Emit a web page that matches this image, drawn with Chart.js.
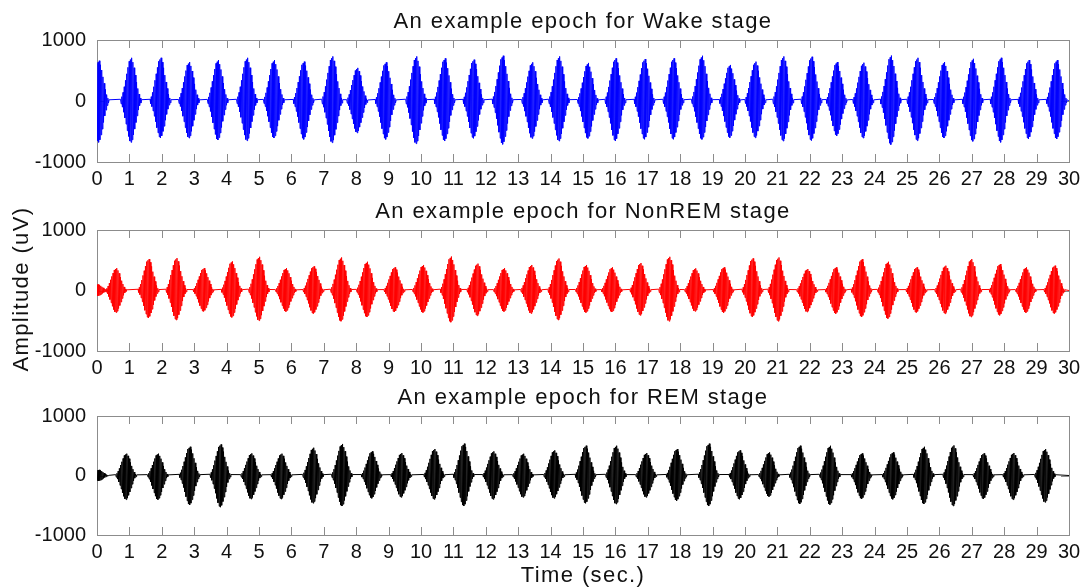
<!DOCTYPE html>
<html>
<head>
<meta charset="utf-8">
<script src="https://cdn.jsdelivr.net/npm/chart.js@4.4.1/dist/chart.umd.min.js"></script>
<style>
  body { margin: 0; background: #fff; }
  #fig { position: relative; width: 1088px; height: 587px; overflow: hidden; background: #fff;
         font-family: "Liberation Sans", Arial, sans-serif; color: #111; }
  #fig canvas { position: absolute; left: 0; }
  .lbl { position: absolute; font-size: 22px; line-height: 22px; letter-spacing: 1.4px;
         white-space: nowrap; text-align: center; }
</style>
</head>
<body>
<div id="fig">
  <canvas id="wake" width="1088" height="169" style="top:25px"></canvas>
  <canvas id="nrem" width="1088" height="168" style="top:215px"></canvas>
  <canvas id="rem" width="1088" height="166" style="top:401px"></canvas>

  <div class="lbl" style="left:97px;width:972px;top:10px">An example epoch for Wake stage</div>
  <div class="lbl" style="left:97px;width:972px;top:200px">An example epoch for NonREM stage</div>
  <div class="lbl" style="left:97px;width:972px;top:386px">An example epoch for REM stage</div>
  <div class="lbl" style="left:-79px;width:200px;top:278px;transform:rotate(-90deg)">Amplitude (uV)</div>
  <div class="lbl" style="left:483px;width:200px;top:564px">Time (sec.)</div>
</div>
<script>
// tick labels
const timeTicks = [0, 1, 2, 3, 4, 5, 6, 7, 8, 9, 10, 11, 12, 13, 14, 15, 16, 17, 18, 19, 20,
                   21, 22, 23, 24, 25, 26, 27, 28, 29, 30];
const ampTicks = [-1000, 0, 1000];
const epoch = [0, 30];

// burst centres (sec) and peak amplitudes (uV)
const wakeTimes = [0.05, 1.05, 1.96, 2.84, 3.73, 4.63, 5.46, 6.38, 7.26, 8.03, 8.91, 9.85, 10.73, 11.62,
                   12.52, 13.43, 14.26, 15.15, 16.0, 16.9, 17.79, 18.67, 19.53, 20.32, 21.18, 22.05,
                   22.83, 23.65, 24.5, 25.32, 26.14, 27.03, 27.89, 28.75, 29.62];
const wakeUpper = [660, 708, 708, 639, 671, 708, 671, 645, 731, 543, 634, 731, 699, 677, 742, 634, 731,
                   624, 699, 688, 699, 742, 591, 645, 731, 725, 639, 628, 745, 708, 639, 692, 708, 671, 671];
const wakeLower = [-677, -677, -607, -607, -639, -650, -607, -629, -683, -522, -629, -699, -656, -613, -710,
                   -613, -656, -613, -656, -629, -629, -629, -602, -602, -656, -650, -570, -607, -714, -650,
                   -607, -661, -677, -623, -623];

const nremTimes = [0.02, 0.59, 1.59, 2.45, 3.29, 4.16, 5.0, 5.83, 6.68, 7.53, 8.33, 9.18, 10.06, 10.92,
                   11.74, 12.56, 13.4, 14.24, 15.09, 15.89, 16.77, 17.66, 18.46, 19.34, 20.23, 21.03,
                   21.92, 22.8, 23.6, 24.41, 25.29, 26.18, 26.98, 27.86, 28.67, 29.55];
const nremUpper = [100, 369, 519, 535, 369, 481, 557, 369, 399, 546, 475, 383, 422, 561, 444, 369, 422, 529,
                   422, 383, 454, 557, 366, 383, 530, 546, 355, 383, 519, 475, 383, 410, 519, 437, 383, 410];
const nremLower = [-90, -364, -454, -487, -348, -444, -498, -348, -383, -508, -437, -355, -364, -524, -417,
                   -348, -380, -487, -364, -355, -410, -508, -344, -366, -437, -508, -355, -383, -437, -464,
                   -366, -383, -437, -410, -366, -383];

const remTimes = [0.05, 0.9, 1.88, 2.86, 3.81, 4.76, 5.69, 6.67, 7.56, 8.48, 9.39, 10.41, 11.32, 12.23,
                  13.15, 14.11, 15.08, 16.02, 16.95, 17.89, 18.88, 19.83, 20.74, 21.69, 22.62, 23.6, 24.56,
                  25.52, 26.43, 27.36, 28.28, 29.26];
const remUpper = [95, 367, 367, 483, 522, 372, 367, 467, 530, 406, 377, 445, 535, 406, 366, 423, 501, 501,
                  377, 445, 535, 423, 389, 501, 500, 372, 389, 483, 506, 372, 378, 444];
const remLower = [-90, -405, -405, -495, -533, -395, -395, -465, -513, -383, -366, -400, -513, -400, -366,
                  -383, -468, -479, -366, -423, -513, -400, -355, -479, -489, -394, -400, -478, -511, -394,
                  -405, -450];

// relative envelope of one burst (successive half-cycle extremes)
const spindle = [0.04, -0.07, 0.1, -0.15, 0.2, -0.27, 0.33, -0.41, 0.48, -0.56, 0.63, -0.72, 0.78, -0.86,
                 0.92, -0.97, 0.96, -1.0, 1.0, -0.94, 0.9, -0.82, 0.77, -0.68, 0.6, -0.52, 0.44, -0.36,
                 0.29, -0.22, 0.16, -0.11, 0.07, -0.05, 0.03];
const halfPeriod = 0.019;

function buildTrace(times, upper, lower) {
  let pts = [];
  times.forEach((t, i) => {
    const start = t - (spindle.length - 1) / 2 * halfPeriod;
    spindle.forEach((s, k) => {
      pts.push({ x: start + k * halfPeriod, y: s >= 0 ? s * upper[i] : -s * lower[i] });
    });
  });
  if (pts[0].x > epoch[0]) pts.unshift({ x: epoch[0], y: 0 });
  if (pts[pts.length - 1].x < epoch[1]) pts.push({ x: epoch[1], y: 0 });
  return pts;
}

const tickFont = { family: "'Liberation Sans', Arial, sans-serif", size: 20 };

const axisBox = {
  id: 'axisBox',
  beforeDatasetsDraw(chart) {
    const { ctx, chartArea: a, scales } = chart;
    ctx.save();
    ctx.strokeStyle = '#8c8c8c';
    ctx.lineWidth = 1;
    ctx.strokeRect(a.left + 0.5, a.top + 0.5, a.right - a.left, a.bottom - a.top);
    ctx.beginPath();
    timeTicks.forEach(v => {
      const px = Math.round(scales.x.getPixelForValue(v)) + 0.5;
      ctx.moveTo(px, a.top); ctx.lineTo(px, a.top + 8);
      ctx.moveTo(px, a.bottom); ctx.lineTo(px, a.bottom - 8);
    });
    ampTicks.forEach(v => {
      const py = Math.round(scales.y.getPixelForValue(v)) + 0.5;
      ctx.moveTo(a.left, py); ctx.lineTo(a.left + 8, py);
      ctx.moveTo(a.right, py); ctx.lineTo(a.right - 8, py);
    });
    ctx.stroke();
    ctx.restore();
  }
};

function makePanel(id, times, upper, lower, color) {
  return new Chart(document.getElementById(id), {
    type: 'line',
    data: {
      datasets: [{
        data: buildTrace(times, upper, lower),
        borderColor: color,
        borderWidth: 1,
        pointRadius: 0,
        tension: 0,
        fill: false
      }]
    },
    options: {
      responsive: false,
      animation: false,
      devicePixelRatio: 1,
      parsing: false,
      layout: { padding: { top: 12, right: 19, left: 0, bottom: 0 } },
      plugins: { legend: { display: false }, tooltip: { enabled: false }, title: { display: false } },
      scales: {
        x: {
          type: 'linear', min: 0, max: 30,
          grid: { display: false }, border: { display: false },
          afterBuildTicks: s => { s.ticks = timeTicks.map(v => ({ value: v })); },
          afterFit: s => { s.height = 32; },
          ticks: { autoSkip: false, maxRotation: 0, padding: -3, color: '#111', font: tickFont,
                   callback: v => String(v) }
        },
        y: {
          type: 'linear', min: -1000, max: 1000,
          grid: { display: false }, border: { display: false },
          afterBuildTicks: s => { s.ticks = ampTicks.map(v => ({ value: v })); },
          afterFit: s => { s.width = 97; },
          ticks: { padding: 3, color: '#111', font: tickFont, callback: v => String(v) }
        }
      }
    },
    plugins: [axisBox]
  });
}

makePanel('wake', wakeTimes, wakeUpper, wakeLower, '#0000ff');
makePanel('nrem', nremTimes, nremUpper, nremLower, '#ff0000');
makePanel('rem', remTimes, remUpper, remLower, '#000000');
</script>
</body>
</html>
